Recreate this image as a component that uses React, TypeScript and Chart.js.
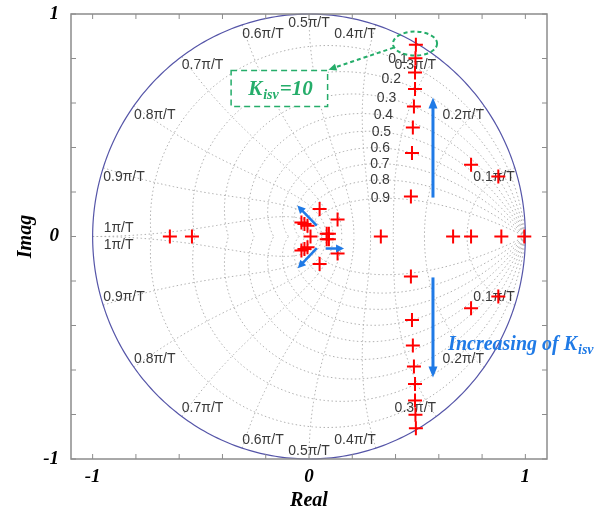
import React, { useEffect, useRef } from 'react';
import { Chart, registerables } from 'chart.js';

Chart.register(...registerables);

// ---------- data ----------
// complex-conjugate pole pairs: real parts and positive imaginary parts
const pairRe = [0.494, 0.492, 0.490, 0.490, 0.485, 0.480, 0.476, 0.471, 0.749, 0.875, 0.049, 0.132, -0.035, -0.021, -0.007, 0.082, 0.092];
const pairIm = [0.862, 0.801, 0.737, 0.663, 0.584, 0.490, 0.375, 0.180, 0.322, 0.270, 0.124, 0.076, 0.063, 0.056, 0.048, 0.012, 0.012];
// real poles
const realPoles = [-0.643, -0.541, 0.007, 0.332, 0.666, 0.749, 0.889, 0.995];

// axis ticks
const tickVals = [-1, -0.8, -0.6, -0.4, -0.2, 0, 0.2, 0.4, 0.6, 0.8, 1];
const tickLabelVals = [-1, 0, 1];

// z-plane grid (zgrid) parameters
const zetaVals = [0.1, 0.2, 0.3, 0.4, 0.5, 0.6, 0.7, 0.8, 0.9];
const wnTenths = [1, 2, 3, 4, 5, 6, 7, 8, 9, 10]; // natural frequency in units of pi/(10T)

// annotation geometry (data coordinates)
const bigArrows = [
  [0.573, 0.175, 0.573, 0.625],
  [0.573, -0.184, 0.573, -0.634],
];
const smallArrows = [
  [0.036, 0.049, -0.054, 0.139],
  [0.036, -0.052, -0.052, -0.143],
  [0.077, -0.054, 0.162, -0.054],
];
const ellipseSpec = { cx: 0.490, cy: 0.867, rx: 0.102, ry: 0.054 };
const greenArrow = [0.392, 0.849, 0.090, 0.750];
const kBox = { x1: -0.360, y1: 0.746, x2: 0.086, y2: 0.584 };
const kTextPos = { x: -0.281, y: 0.634 };
const incTextPos = { x: 0.643, y: -0.512 };

const SERIF = "'Liberation Serif', 'Times New Roman', serif";
const SANS = "'Liberation Sans', Arial, sans-serif";
const BLUE = '#1f7ae6';
const GREEN = '#25ad6a';
const GRID_COLOR = '#b0b0b0';
const CIRCLE_COLOR = '#5555a8';
const LABEL_COLOR = '#3a3a3a';

function arrowHead(ctx: CanvasRenderingContext2D, x1: number, y1: number, x2: number, y2: number, len: number, half: number) {
  const a = Math.atan2(y2 - y1, x2 - x1);
  ctx.beginPath();
  ctx.moveTo(x2, y2);
  ctx.lineTo(x2 - len * Math.cos(a) + half * Math.sin(a), y2 - len * Math.sin(a) - half * Math.cos(a));
  ctx.lineTo(x2 - len * Math.cos(a) - half * Math.sin(a), y2 - len * Math.sin(a) + half * Math.cos(a));
  ctx.closePath();
  ctx.fill();
}

const zgridPlugin = {
  id: 'zgrid',
  beforeDatasetsDraw(chart: any) {
    const { ctx, scales } = chart;
    const px = (v: number) => scales.x.getPixelForValue(v);
    const py = (v: number) => scales.y.getPixelForValue(v);
    const N = 160;
    ctx.save();
    ctx.strokeStyle = GRID_COLOR;
    ctx.lineWidth = 1;
    ctx.setLineDash([1.5, 2.5]);
    // constant damping curves
    for (const z of zetaVals) {
      const s = Math.sqrt(1 - z * z);
      for (const sign of [1, -1]) {
        ctx.beginPath();
        for (let i = 0; i <= N; i++) {
          const th = (Math.PI * i) / N;
          const r = Math.exp((-z * th) / s);
          const X = px(r * Math.cos(th));
          const Y = py(sign * r * Math.sin(th));
          if (i === 0) ctx.moveTo(X, Y); else ctx.lineTo(X, Y);
        }
        ctx.stroke();
      }
    }
    // constant natural frequency curves
    for (const k of wnTenths) {
      const w = (k * Math.PI) / 10;
      for (const sign of [1, -1]) {
        ctx.beginPath();
        for (let i = 0; i <= N; i++) {
          const z = i / N;
          const r = Math.exp(-z * w);
          const th = w * Math.sqrt(1 - z * z);
          const X = px(r * Math.cos(th));
          const Y = py(sign * r * Math.sin(th));
          if (i === 0) ctx.moveTo(X, Y); else ctx.lineTo(X, Y);
        }
        ctx.stroke();
      }
    }
    // unit circle
    ctx.setLineDash([]);
    ctx.strokeStyle = CIRCLE_COLOR;
    ctx.lineWidth = 1.2;
    ctx.beginPath();
    for (let i = 0; i <= 360; i++) {
      const th = (2 * Math.PI * i) / 360;
      const X = px(Math.cos(th));
      const Y = py(Math.sin(th));
      if (i === 0) ctx.moveTo(X, Y); else ctx.lineTo(X, Y);
    }
    ctx.stroke();

    // frequency labels
    ctx.fillStyle = LABEL_COLOR;
    ctx.font = `14px ${SANS}`;
    for (const k of wnTenths) {
      const txt = `${k === 10 ? '1' : (k / 10).toString()}\u03c0/T`;
      if (k === 10) {
        ctx.textAlign = 'left';
        ctx.textBaseline = 'middle';
        ctx.fillText(txt, px(-1) + 11, py(0) - 8);
        ctx.fillText(txt, px(-1) + 11, py(0) + 9);
        continue;
      }
      const th = (k * Math.PI) / 10;
      const X = px(Math.cos(th));
      ctx.textAlign = k < 5 ? 'right' : k > 5 ? 'left' : 'center';
      ctx.textBaseline = 'top';
      ctx.fillText(txt, X, py(Math.sin(th)) + 2);
      ctx.textBaseline = 'bottom';
      ctx.fillText(txt, X, py(-Math.sin(th)) - 1);
    }
    // damping labels
    ctx.textAlign = 'center';
    ctx.textBaseline = 'middle';
    const wl = 0.35 * Math.PI;
    for (const z of zetaVals) {
      const r = Math.exp(-z * wl);
      const th = wl * Math.sqrt(1 - z * z);
      ctx.fillText(z.toString(), px(r * Math.cos(th)), py(r * Math.sin(th)));
    }
    ctx.restore();
  },
};

const framePlugin = {
  id: 'frame',
  afterDatasetsDraw(chart: any) {
    const { ctx, chartArea: a, scales } = chart;
    ctx.save();
    ctx.strokeStyle = '#8c8c8c';
    ctx.lineWidth = 1.5;
    ctx.strokeRect(a.left, a.top, a.right - a.left, a.bottom - a.top);
    ctx.lineWidth = 1;
    ctx.beginPath();
    for (const v of tickVals) {
      const X = scales.x.getPixelForValue(v);
      ctx.moveTo(X, a.bottom); ctx.lineTo(X, a.bottom - 5);
      ctx.moveTo(X, a.top); ctx.lineTo(X, a.top + 5);
      const Y = scales.y.getPixelForValue(v);
      ctx.moveTo(a.left, Y); ctx.lineTo(a.left + 5, Y);
      ctx.moveTo(a.right, Y); ctx.lineTo(a.right - 5, Y);
    }
    ctx.stroke();
    ctx.restore();
  },
};

const annotationPlugin = {
  id: 'notes',
  afterDatasetsDraw(chart: any) {
    const { ctx, scales } = chart;
    const px = (v: number) => scales.x.getPixelForValue(v);
    const py = (v: number) => scales.y.getPixelForValue(v);
    ctx.save();
    // blue arrows
    ctx.strokeStyle = BLUE;
    ctx.fillStyle = BLUE;
    ctx.lineWidth = 3;
    for (const [a, b, c, d] of bigArrows) {
      const x1 = px(a), y1 = py(b), x2 = px(c), y2 = py(d);
      const ang = Math.atan2(y2 - y1, x2 - x1);
      ctx.beginPath();
      ctx.moveTo(x1, y1);
      ctx.lineTo(x2 - 8 * Math.cos(ang), y2 - 8 * Math.sin(ang));
      ctx.stroke();
      arrowHead(ctx, x1, y1, x2, y2, 11, 4.5);
    }
    ctx.lineWidth = 2.5;
    for (const [a, b, c, d] of smallArrows) {
      const x1 = px(a), y1 = py(b), x2 = px(c), y2 = py(d);
      const ang = Math.atan2(y2 - y1, x2 - x1);
      ctx.beginPath();
      ctx.moveTo(x1, y1);
      ctx.lineTo(x2 - 6 * Math.cos(ang), y2 - 6 * Math.sin(ang));
      ctx.stroke();
      arrowHead(ctx, x1, y1, x2, y2, 8, 4);
    }
    // green dashed ellipse
    ctx.strokeStyle = GREEN;
    ctx.fillStyle = GREEN;
    ctx.lineWidth = 2;
    ctx.setLineDash([4, 3]);
    const ecx = px(ellipseSpec.cx), ecy = py(ellipseSpec.cy);
    const erx = px(ellipseSpec.cx + ellipseSpec.rx) - ecx;
    const ery = ecy - py(ellipseSpec.cy + ellipseSpec.ry);
    ctx.beginPath();
    ctx.ellipse(ecx, ecy, erx, ery, 0, 0, Math.PI * 2);
    ctx.stroke();
    // green dashed arrow
    {
      const x1 = px(greenArrow[0]), y1 = py(greenArrow[1]), x2 = px(greenArrow[2]), y2 = py(greenArrow[3]);
      const ang = Math.atan2(y2 - y1, x2 - x1);
      ctx.beginPath();
      ctx.moveTo(x1, y1);
      ctx.lineTo(x2 - 6 * Math.cos(ang), y2 - 6 * Math.sin(ang));
      ctx.stroke();
      ctx.setLineDash([]);
      arrowHead(ctx, x1, y1, x2, y2, 8, 3.5);
    }
    // K box
    const bx1 = px(kBox.x1), by1 = py(kBox.y1), bx2 = px(kBox.x2), by2 = py(kBox.y2);
    ctx.fillStyle = '#ffffff';
    ctx.fillRect(bx1, by1, bx2 - bx1, by2 - by1);
    ctx.strokeStyle = GREEN;
    ctx.setLineDash([6, 4]);
    ctx.lineWidth = 1.5;
    ctx.strokeRect(bx1, by1, bx2 - bx1, by2 - by1);
    ctx.setLineDash([]);
    // K text
    ctx.fillStyle = GREEN;
    ctx.textAlign = 'left';
    ctx.textBaseline = 'alphabetic';
    let tx = px(kTextPos.x);
    const ty = py(kTextPos.y);
    ctx.font = `italic bold 21px ${SERIF}`;
    ctx.fillText('K', tx, ty);
    tx += ctx.measureText('K').width + 1;
    ctx.font = `italic bold 14px ${SERIF}`;
    ctx.fillText('isv', tx, ty + 4);
    tx += ctx.measureText('isv').width + 1;
    ctx.font = `italic bold 21px ${SERIF}`;
    ctx.fillText('=10', tx, ty);
    // Increasing text
    ctx.fillStyle = BLUE;
    let ix = px(incTextPos.x);
    const iy = py(incTextPos.y);
    ctx.font = `italic bold 20px ${SERIF}`;
    ctx.fillText('Increasing of K', ix, iy);
    ix += ctx.measureText('Increasing of K').width + 1;
    ctx.font = `italic bold 14px ${SERIF}`;
    ctx.fillText('isv', ix, iy + 4);
    ctx.restore();
  },
};

function tickLabel(v: number) {
  for (const t of tickLabelVals) if (Math.abs(v - t) < 1e-9) return String(t);
  return '';
}

export default function App() {
  const ref = useRef<HTMLCanvasElement | null>(null);
  useEffect(() => {
    if (!ref.current) return;
    const poles: { x: number; y: number }[] = [];
    realPoles.forEach((r) => poles.push({ x: r, y: 0 }));
    pairRe.forEach((re, i) => {
      poles.push({ x: re, y: pairIm[i] });
      poles.push({ x: re, y: -pairIm[i] });
    });
    const axisFont = { family: SERIF, size: 19, style: 'italic' as const, weight: 'bold' as const };
    const chart = new Chart(ref.current, {
      type: 'scatter',
      data: {
        datasets: [
          {
            label: 'poles',
            data: poles,
            pointStyle: 'cross',
            pointRadius: 7,
            pointHoverRadius: 7,
            borderWidth: 2,
            borderColor: '#ff0000',
            backgroundColor: '#ff0000',
            showLine: false,
          },
        ],
      },
      options: {
        animation: false,
        responsive: false,
        layout: { padding: { top: 14, right: 66, left: 0, bottom: 0 } },
        plugins: { legend: { display: false }, tooltip: { enabled: false } },
        scales: {
          x: {
            type: 'linear',
            min: -1.1,
            max: 1.1,
            afterBuildTicks: (s: any) => {
              s.ticks = tickVals.map((v) => ({ value: v }));
            },
            afterFit: (s: any) => {
              s.height = 58;
              s.paddingLeft = 0;
              s.paddingRight = 0;
            },
            grid: { display: false, drawTicks: false, tickLength: 0 },
            border: { display: false },
            ticks: { autoSkip: false, maxRotation: 0, padding: 7, color: '#000', font: axisFont, callback: (v: any) => tickLabel(Number(v)) },
            title: { display: true, text: 'Real', color: '#000', font: { ...axisFont, size: 20 }, padding: { top: 0, bottom: 4 } },
          },
          y: {
            type: 'linear',
            min: -1,
            max: 1,
            afterBuildTicks: (s: any) => {
              s.ticks = tickVals.map((v) => ({ value: v }));
            },
            afterFit: (s: any) => {
              s.width = 71;
              s.paddingTop = 0;
              s.paddingBottom = 0;
            },
            grid: { display: false, drawTicks: false, tickLength: 0 },
            border: { display: false },
            ticks: { autoSkip: false, padding: 12, color: '#000', font: axisFont, callback: (v: any) => tickLabel(Number(v)) },
            title: { display: true, text: 'Imag', color: '#000', font: { ...axisFont, size: 20 }, padding: { top: 14, bottom: 0 } },
          },
        },
      },
      plugins: [zgridPlugin, framePlugin, annotationPlugin],
    });
    return () => chart.destroy();
  }, []);
  return (
    <div style={{ position: 'absolute', left: 0, top: 0, width: 613, height: 517, background: '#fff' }}>
      <canvas ref={ref} width={613} height={517} />
    </div>
  );
}
